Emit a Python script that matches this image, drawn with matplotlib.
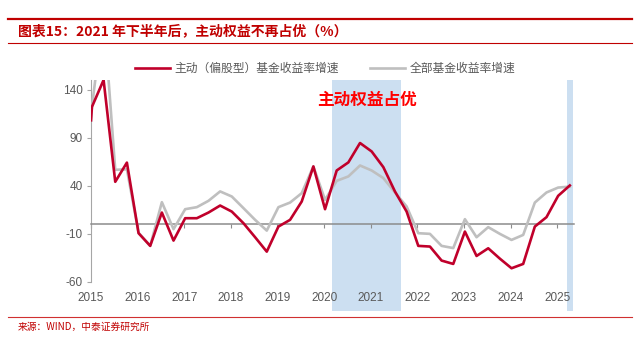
import matplotlib
matplotlib.use("Agg")
import matplotlib.pyplot as plt
import numpy as np
from matplotlib.patches import Rectangle

plt.rcParams['font.family'] = ['Liberation Sans', 'Noto Sans CJK SC', 'DejaVu Sans']
plt.rcParams['axes.unicode_minus'] = False

# quarterly points (first one sits just before the first quarter mark)
dates = [2015.0] + list(np.arange(2015.02, 2025.3, 0.25))
active = [108, 122, 150, 44, 64, -9.5, -22.7, 12, -17.2, 6.1, 6.1, 12, 19.3, 13, 0.9,
          -13.7, -28.7, -2.6, 4.4, 23.5, 60, 15.5, 55.8, 64.2, 84.4, 75.6, 59.3, 33.9,
          13, -22.7, -23.4, -38, -41.5, -7.8, -33.2, -25.2, -36, -46, -41.5, -2.6, 7.2,
          29.4, 40.2]
allfund = [108, 122, 220, 56.5, 57, -9, -22.7, 22.8, -5.3, 15.5, 17.6, 24.2, 34, 28.7,
           16.6, 4.4, -6.8, 17.6, 22.4, 32.2, 60, 25.2, 45, 49.6, 61, 55.8, 47.9, 32.9,
           18.3, -9.5, -10.2, -22.7, -25, 5.1, -13.7, -3.2, -10.2, -16.5, -11.3, 22.4,
           32.9, 38, 39]
shade_spans = [(2020.16, 2021.64), (2025.21, 2025.34)]
yticks = [-60, -10, 40, 90, 140]
years = list(range(2015, 2026))

red = '#C0002B'
grey = '#BFBFBF'
title_red = '#C00000'

fig = plt.figure(figsize=(6.4, 3.37), dpi=100)
ax = fig.add_axes([91 / 640, 55.3 / 337, 483 / 640, 201.7 / 337])

# blue shaded periods, running down past the year labels
for x0, x1 in shade_spans:
    ax.add_patch(Rectangle((x0, -0.145), x1 - x0, 1.145, transform=ax.get_xaxis_transform(),
                           facecolor='#CCDFF1', edgecolor='none', clip_on=False, zorder=0.5))

ax.plot(dates, allfund, color=grey, lw=1.9, zorder=3, label='全部基金收益率增速')
ax.plot(dates, active, color=red, lw=1.9, zorder=4, label='主动（偏股型）基金收益率增速')

ax.set_xlim(2015, 2025.36)
ax.set_ylim(-60, 150)

for s in ['top', 'right']:
    ax.spines[s].set_visible(False)
ax.spines['left'].set_color('#A6A6A6')
ax.spines['bottom'].set_position(('data', 0))
ax.spines['bottom'].set_color('#8C8C8C')
ax.spines['bottom'].set_linewidth(1.1)

ax.set_yticks(yticks)
ax.tick_params(axis='y', colors='#A6A6A6', labelcolor='#595959', labelsize=8.5,
               length=3, direction='out', pad=3)
ax.set_xticks(years)
ax.tick_params(axis='x', colors='#8C8C8C', length=3, direction='out', labelbottom=False)

# year labels at the bottom of the plot, not on the zero line
for y in years:
    ax.text(y, -0.082, str(y), transform=ax.get_xaxis_transform(), ha='center', va='center',
            fontsize=8.5, color='#595959', zorder=6)

ax.text(2020.92, 129.6, '主动权益占优', color='#FF0000', fontsize=12, fontweight='bold',
        ha='center', va='center', family=['Noto Sans CJK SC'])

h, l = ax.get_legend_handles_labels()
leg = ax.legend(h[::-1], l[::-1], loc='lower center', bbox_to_anchor=(0.485, 1.0), ncol=2,
                frameon=False, fontsize=8.5, handlelength=3.0, columnspacing=2.6,
                handletextpad=0.4, borderaxespad=0)
for t in leg.get_texts():
    t.set_color('#595959')

# header and footer in report style
fig.add_artist(plt.Line2D([8 / 640, 632 / 640], [1 - 19 / 337] * 2, color=title_red, lw=1.6))
fig.add_artist(plt.Line2D([8 / 640, 632 / 640], [1 - 43 / 337] * 2, color=title_red, lw=0.8))
fig.text(18 / 640, 1 - 31 / 337, '图表15：2021 年下半年后，主动权益不再占优（%）', color=title_red,
         fontsize=10, fontweight='bold', va='center',
         family=['Noto Sans CJK SC', 'DejaVu Sans'])
fig.add_artist(plt.Line2D([8 / 640, 632 / 640], [1 - 317 / 337] * 2, color='#D03030', lw=0.8))
fig.text(18 / 640, 1 - 327 / 337, '来源：WIND，中泰证券研究所', color='#C00000', fontsize=7,
         va='center', family=['Noto Sans CJK SC', 'DejaVu Sans'])

fig.savefig('out.png', dpi=100)
